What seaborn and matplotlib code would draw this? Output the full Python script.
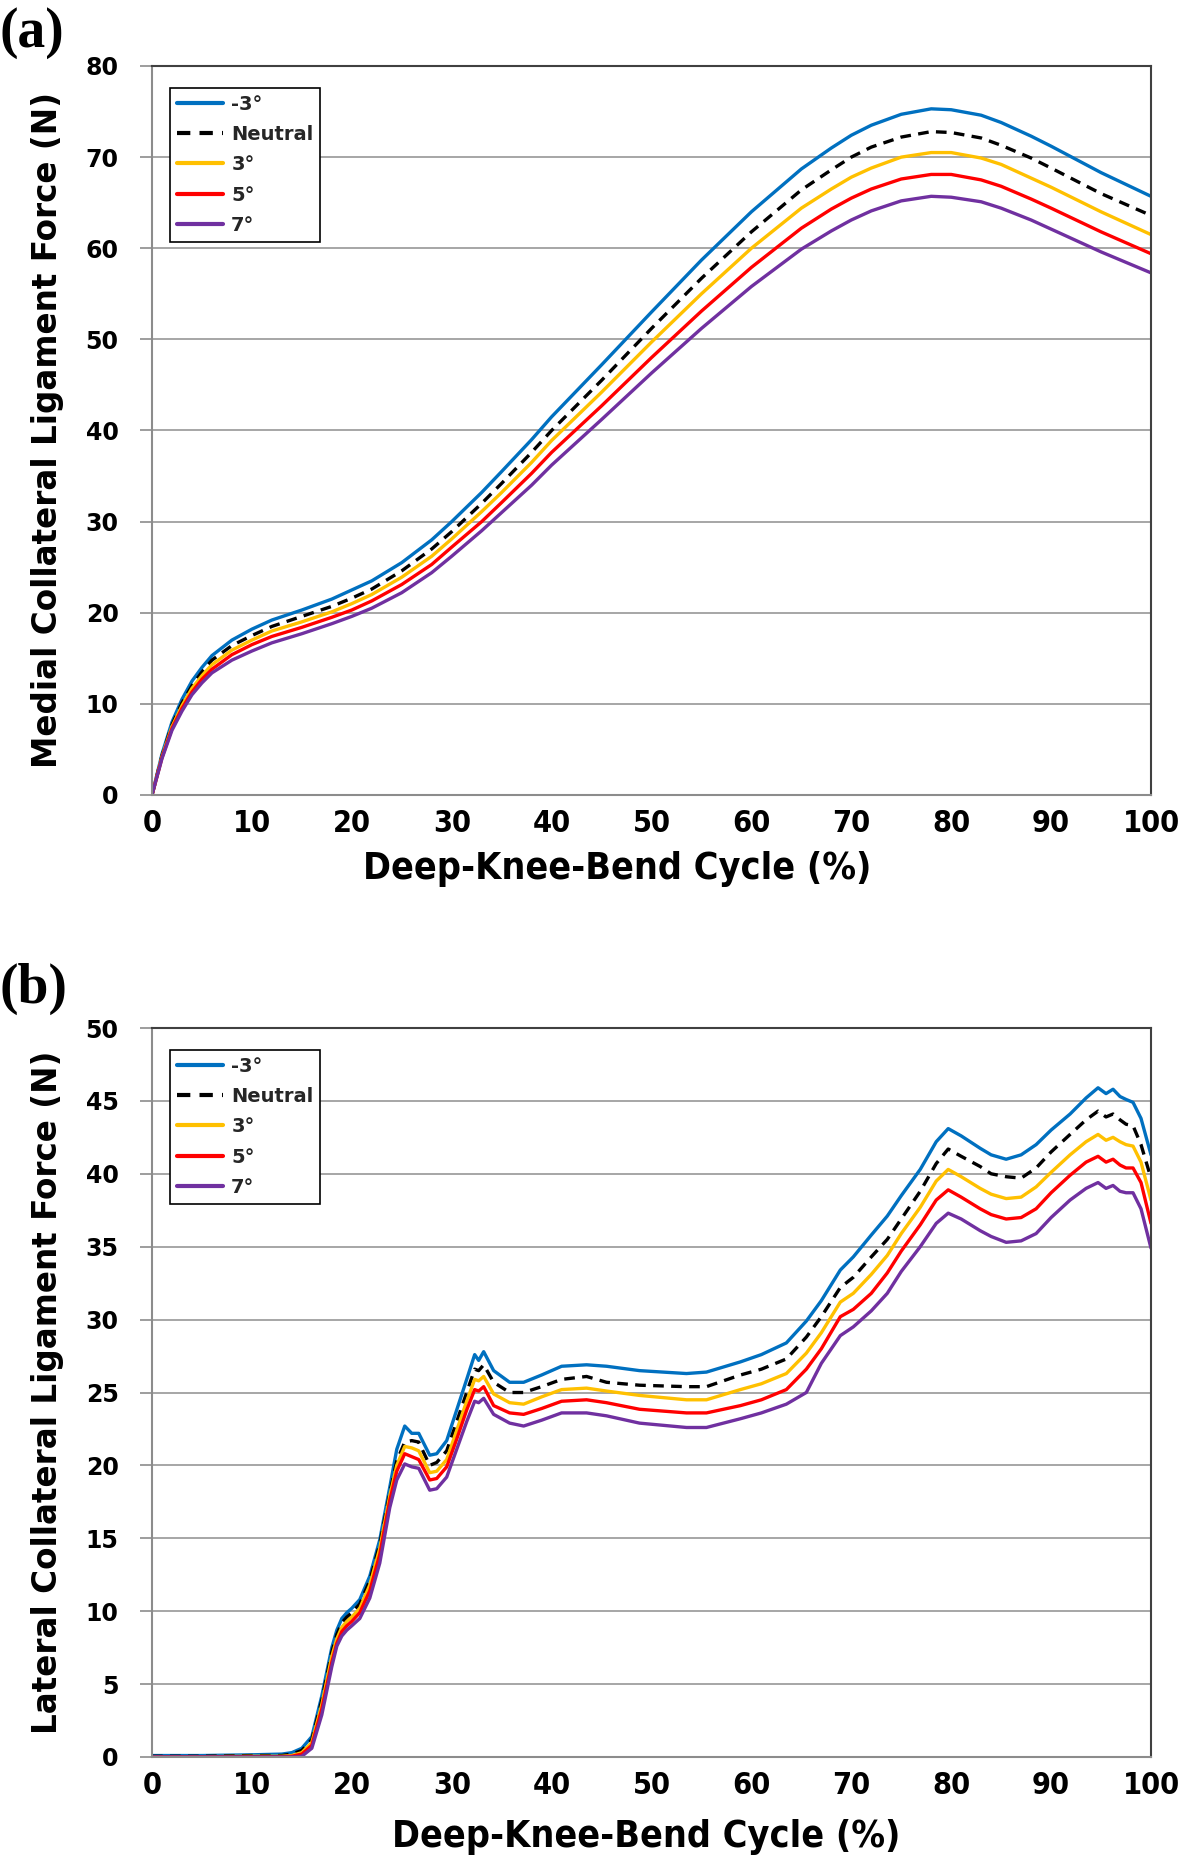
import numpy as np
import pandas as pd
import matplotlib
matplotlib.use('Agg')
import matplotlib.pyplot as plt
import seaborn as sns
from matplotlib import font_manager as fm
from matplotlib.font_manager import FontProperties

# ---------------- data ----------------
labels = ['-3°', 'Neutral', '3°', '5°', '7°']
colors = ['#0070C0', '#000000', '#FFC000', '#FF0000', '#7030A0']

xa = [0, 1, 2, 3, 4, 5, 6, 8, 10, 12, 15, 18, 20, 22, 25, 28, 30, 33, 35, 38, 40,
      45, 50, 55, 60, 65, 68, 70, 72, 75, 78, 80, 83, 85, 88, 90, 95, 100]
mcl_m3 = [0, 4.5, 8, 10.5, 12.5, 14, 15.3, 17, 18.2, 19.2, 20.3, 21.5, 22.5, 23.5, 25.5,
          28, 30, 33.2, 35.5, 39, 41.5, 47.2, 53, 58.7, 64, 68.7, 71.0, 72.4, 73.5, 74.7,
          75.3, 75.2, 74.6, 73.8, 72.3, 71.2, 68.3, 65.7]
mcl_neu = [0, 4.3, 7.7, 10.1, 12, 13.5, 14.8, 16.4, 17.5, 18.5, 19.6, 20.7, 21.6, 22.6, 24.6,
           27, 28.9, 32, 34.2, 37.6, 40, 45.5, 51.2, 56.7, 61.8, 66.4, 68.6, 70, 71.1, 72.2,
           72.8, 72.7, 72.1, 71.3, 69.9, 68.8, 66, 63.6]
mcl_p3 = [0, 4.2, 7.5, 9.8, 11.7, 13.1, 14.3, 15.9, 17, 18, 19, 20.1, 21, 22, 23.9,
          26.2, 28.1, 31.1, 33.2, 36.5, 38.9, 44.2, 49.7, 55, 60, 64.4, 66.5, 67.8, 68.8, 70,
          70.5, 70.5, 69.9, 69.2, 67.7, 66.7, 64, 61.5]
mcl_p5 = [0, 4.1, 7.3, 9.5, 11.3, 12.7, 13.8, 15.4, 16.5, 17.4, 18.4, 19.5, 20.3, 21.3, 23.1,
          25.3, 27.2, 30, 32.1, 35.3, 37.6, 42.7, 48, 53.1, 57.9, 62.2, 64.3, 65.5, 66.5, 67.6,
          68.1, 68.1, 67.5, 66.8, 65.4, 64.4, 61.8, 59.4]
mcl_p7 = [0, 4, 7.1, 9.2, 11, 12.3, 13.4, 14.8, 15.8, 16.7, 17.7, 18.8, 19.6, 20.5, 22.2,
          24.4, 26.2, 29, 31, 34, 36.2, 41.2, 46.3, 51.2, 55.8, 59.9, 61.9, 63.1, 64.1, 65.2,
          65.7, 65.6, 65.1, 64.4, 63.1, 62.1, 59.6, 57.3]

xb = [0, 5, 10, 13, 14, 15, 16, 17, 18, 18.5, 19, 19.5, 20, 20.8, 21.8, 22.8, 23.8, 24.5,
      25.3, 26, 26.7, 27.8, 28.5, 29.5, 30.5, 31.5, 32.3, 32.7, 33.2, 34.2, 35.8, 37.2, 39,
      41, 43.5, 45.5, 48.8, 53.5, 55.5, 58.9, 61, 63.5, 65.5, 67, 68.9, 70.2, 72, 73.6, 75,
      76.9, 78.5, 79.7, 81, 82.9, 84, 85.5, 87, 88.5, 90, 91.9, 93.5, 94.7, 95.5, 96.2, 96.9,
      97.5, 98.2, 99, 100]
lcl_m3 = [0.1, 0.1, 0.15, 0.2, 0.3, 0.6, 1.4, 4.2, 7.5, 8.7, 9.5, 9.9, 10.2, 10.8, 12.4, 14.9,
          18.5, 21.1, 22.7, 22.2, 22.2, 20.7, 20.8, 21.7, 23.8, 25.9, 27.6, 27.2, 27.8, 26.5,
          25.7, 25.7, 26.2, 26.8, 26.9, 26.8, 26.5, 26.3, 26.4, 27.1, 27.6, 28.4, 29.9, 31.3,
          33.4, 34.3, 35.8, 37.1, 38.5, 40.3, 42.2, 43.1, 42.6, 41.75, 41.3, 41.0, 41.3, 42.0,
          43.0, 44.1, 45.2, 45.9, 45.5, 45.8, 45.3, 45.1, 44.9, 43.8, 41.3]
lcl_neu = [0.05, 0.05, 0.1, 0.1, 0.2, 0.45, 1.2, 3.9, 7.2, 8.4, 9.2, 9.6, 9.9, 10.5, 12.1, 14.6,
           18.1, 20.3, 21.6, 21.7, 21.6, 20.0, 20.2, 21.0, 23.0, 25.0, 26.6, 26.5, 26.9, 25.7,
           25.0, 25.0, 25.4, 25.9, 26.1, 25.7, 25.5, 25.4, 25.4, 26.2, 26.6, 27.3, 28.8, 30.2,
           32.2, 32.9, 34.3, 35.5, 36.9, 38.8, 40.7, 41.7, 41.2, 40.5, 40.0, 39.8, 39.7, 40.4,
           41.5, 42.7, 43.7, 44.3, 43.9, 44.1, 43.7, 43.4, 43.3, 42.0, 39.7]
lcl_p3 = [0.02, 0.02, 0.05, 0.05, 0.1, 0.3, 1.0, 3.6, 6.9, 8.1, 8.9, 9.3, 9.6, 10.2, 11.8, 14.3,
          17.9, 20.0, 21.3, 21.2, 21.0, 19.5, 19.6, 20.4, 22.4, 24.4, 25.9, 25.8, 26.1, 24.9,
          24.3, 24.2, 24.7, 25.2, 25.3, 25.1, 24.8, 24.5, 24.5, 25.2, 25.6, 26.3, 27.7, 29.1,
          31.2, 31.8, 33.1, 34.4, 35.9, 37.7, 39.5, 40.3, 39.8, 39.0, 38.6, 38.3, 38.4, 39.1,
          40.1, 41.3, 42.2, 42.7, 42.3, 42.5, 42.2, 42.0, 41.9, 40.8, 38.2]
lcl_p5 = [0, 0, 0.02, 0.02, 0.05, 0.2, 0.8, 3.3, 6.5, 7.8, 8.6, 9.0, 9.3, 9.9, 11.4, 13.9,
          17.6, 19.6, 20.8, 20.6, 20.4, 19.0, 19.1, 19.9, 21.8, 23.8, 25.2, 25.1, 25.4, 24.1,
          23.6, 23.5, 23.9, 24.4, 24.5, 24.3, 23.85, 23.6, 23.6, 24.1, 24.5, 25.2, 26.6, 28.0,
          30.2, 30.7, 31.8, 33.2, 34.7, 36.5, 38.2, 38.9, 38.4, 37.6, 37.2, 36.9, 37.0, 37.6,
          38.7, 39.9, 40.8, 41.2, 40.8, 41.0, 40.6, 40.4, 40.4, 39.4, 36.6]
lcl_p7 = [0, 0, 0, 0, 0, 0.05, 0.6, 2.9, 6.2, 7.6, 8.3, 8.7, 9.0, 9.5, 10.9, 13.3,
          17.1, 19.0, 20.1, 19.9, 19.8, 18.3, 18.4, 19.2, 21.1, 23.0, 24.4, 24.3, 24.6, 23.5,
          22.9, 22.7, 23.1, 23.6, 23.6, 23.4, 22.9, 22.6, 22.6, 23.2, 23.6, 24.2, 25.0, 27.0,
          28.9, 29.5, 30.6, 31.8, 33.3, 35.0, 36.6, 37.3, 36.9, 36.1, 35.7, 35.3, 35.4, 35.9,
          37.0, 38.2, 39.0, 39.4, 39.0, 39.2, 38.8, 38.7, 38.7, 37.6, 34.9]

yticks_a = [0, 10, 20, 30, 40, 50, 60, 70, 80]
yticks_b = [0, 5, 10, 15, 20, 25, 30, 35, 40, 45, 50]
xticks = [0, 10, 20, 30, 40, 50, 60, 70, 80, 90, 100]

# ---------------- fonts ----------------
sns.set_theme(style='white')
plt.rcParams['font.family'] = ['DejaVu Sans']


def find_cond_font():
    prefs = ['dejavusanscondensed-bold.', 'liberationsansnarrow-bold.',
             'robotocondensed-bold.', 'opensans-condensedbold', 'opensans_condensed-bold',
             'notosans-condensedbold.', 'lato-condensedbold']
    names = [(f.fname, f.fname.lower().replace(' ', '').replace('_', '')) for f in fm.fontManager.ttflist]
    for p in prefs:
        p2 = p.replace('_', '')
        for fn, low in names:
            if p2 in low:
                return fn
    for fn, low in names:
        base = low.split('/')[-1]
        if ('condensed' in base or 'narrow' in base) and 'bold' in base and \
                not any(k in base for k in ['italic', 'oblique', 'semi', 'extra', 'ultra', 'semicondensed']):
            return fn
    return None


def find_font(key):
    for f in fm.fontManager.ttflist:
        if key in f.fname.lower().replace(' ', ''):
            return f.fname
    return None

cond_path = find_cond_font()
serif_path = find_font('liberationserif-bold.')


def cond_fp(size, fallback):
    if cond_path:
        return FontProperties(fname=cond_path, size=size)
    return FontProperties(family='DejaVu Sans', weight='bold', size=fallback)


def serif_fp(size):
    if serif_path:
        return FontProperties(fname=serif_path, size=size)
    return FontProperties(family='serif', weight='bold', size=size)

# ---------------- figure ----------------
W, H = 1181, 1861
fig = plt.figure(figsize=(W / 100, H / 100), dpi=100)


def px_axes(left, top, right, bottom):
    return fig.add_axes([left / W, 1 - bottom / H, (right - left) / W, (bottom - top) / H])

ax_a = px_axes(152, 66, 1151, 795)
ax_b = px_axes(152, 1028, 1151, 1757)

panels = [
    (ax_a, xa, [mcl_m3, mcl_neu, mcl_p3, mcl_p5, mcl_p7], yticks_a,
     'Medial Collateral Ligament Force (N)', '(a)', 7, (0.466, -0.102)),
    (ax_b, xb, [lcl_m3, lcl_neu, lcl_p3, lcl_p5, lcl_p7], yticks_b,
     'Lateral Collateral Ligament Force (N)', '(b)', 963, (0.495, -0.11)),
]

for ax, xs, series, yt, ylab, tag, tag_y, xl_pos in panels:
    for lab, col, ys in zip(labels, colors, series):
        ls = '--' if lab == 'Neutral' else '-'
        df = pd.DataFrame({'x': xs, 'y': ys})
        sns.lineplot(data=df, x='x', y='y', ax=ax, color=col, linewidth=2.4,
                     linestyle=ls, label=lab, sort=False, estimator=None)
        if lab == 'Neutral':
            ax.lines[-1].set_dashes((3.2, 2.2))
    ax.set_xlim(0, 100)
    ax.set_ylim(yt[0], yt[-1])
    ax.set_xticks(xticks)
    ax.set_yticks(yt)
    ax.yaxis.grid(True, color='#A6A6A6', linewidth=1.4)
    ax.xaxis.grid(False)
    ax.set_axisbelow(True)
    for side in ['left', 'bottom']:
        ax.spines[side].set_color('#8C8C8C')
        ax.spines[side].set_linewidth(1.5)
    for side in ['top', 'right']:
        ax.spines[side].set_color('#404040')
        ax.spines[side].set_linewidth(1.5)
    ax.tick_params(axis='y', direction='out', length=9, width=1.2, color='#8C8C8C',
                   pad=15, left=True)
    ax.tick_params(axis='x', length=0, pad=10, bottom=True)
    for t in ax.get_yticklabels():
        t.set_fontproperties(FontProperties(family='DejaVu Sans', weight='bold', size=17))
        t.set_color('black')
    for t in ax.get_xticklabels():
        t.set_fontproperties(cond_fp(22, 20))
        t.set_color('black')
    ax.set_ylabel(ylab, fontsize=23.5, fontweight='bold', color='black')
    ax.yaxis.label.set_va('center')
    ax.yaxis.set_label_coords(-0.105, 0.5)
    ax.set_xlabel('Deep-Knee-Bend Cycle (%)', fontproperties=cond_fp(27, 26), color='black')
    ax.xaxis.label.set_va('center')
    ax.xaxis.set_label_coords(*xl_pos)
    leg = ax.legend(loc='upper left', bbox_to_anchor=(0.018, 0.97), borderaxespad=0,
                    frameon=True, fancybox=False, framealpha=1, edgecolor='black',
                    handlelength=2.4, handletextpad=0.4, labelspacing=0.58, borderpad=0.35,
                    prop=FontProperties(family='DejaVu Sans', weight='bold', size=14))
    leg.get_frame().set_linewidth(1.2)
    for line in leg.get_lines():
        line.set_linewidth(3)
    fig.text(0.0, 1 - tag_y / H, tag, fontproperties=serif_fp(40), va='top', ha='left',
             color='black')

fig.savefig('out.png', dpi=100, facecolor='white')
